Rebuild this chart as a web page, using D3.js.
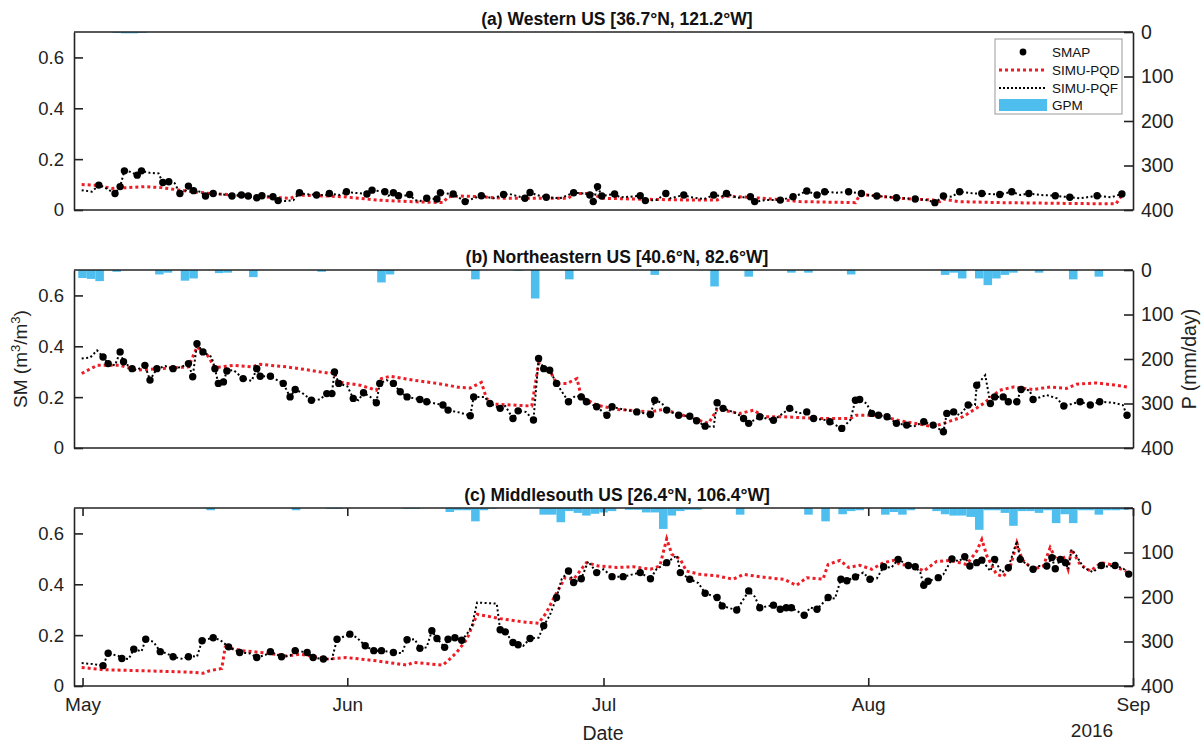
<!DOCTYPE html>
<html><head><meta charset="utf-8">
<script src="https://cdn.jsdelivr.net/npm/d3@7"></script>
<style>
body{margin:0;background:#fff;}
svg{display:block;font-family:"Liberation Sans",Arial,sans-serif;}
</style></head>
<body><svg id="chart" width="1203" height="743"></svg>
<script>
// ---------- DATA (day = days after 30 Apr 2016) ----------
const titles = ["(a) Western US [36.7°N, 121.2°W]","(b) Northeastern US [40.6°N, 82.6°W]","(c) Middlesouth US [26.4°N, 106.4°W]"];
const smTicks = [0,0.2,0.4,0.6];
const pTicks = [0,100,200,300,400];
const monthTicks = ["2016-05-01","2016-06-01","2016-07-01","2016-08-01","2016-09-01"];
const monthLabels = ["May","Jun","Jul","Aug","Sep"];
const legendLabels = ["SMAP","SIMU-PQD","SIMU-PQF","GPM"];

const smapA = [[2.9,0.098],[4.8,0.065],[5.4,0.092],[5.9,0.154],[7.4,0.137],[7.9,0.154],[10.4,0.108],[11.1,0.111],[12.4,0.065],[13.4,0.094],[14.0,0.076],[15.4,0.055],[16.3,0.065],[18.5,0.055],[19.6,0.059],[20.4,0.055],[21.4,0.048],[22.0,0.056],[23.3,0.052],[23.9,0.037],[26.4,0.068],[28.4,0.059],[29.9,0.065],[31.9,0.072],[34.3,0.063],[34.9,0.078],[36.4,0.072],[37.4,0.068],[38.0,0.056],[39.3,0.061],[41.3,0.046],[42.5,0.043],[42.9,0.068],[44.4,0.063],[45.8,0.033],[47.7,0.056],[50.3,0.061],[52.8,0.046],[53.4,0.069],[55.3,0.05],[58.5,0.068],[60.4,0.059],[60.8,0.033],[61.3,0.092],[61.8,0.055],[63.3,0.063],[66.3,0.056],[66.9,0.037],[69.3,0.065],[71.4,0.059],[74.9,0.059],[76.4,0.065],[79.2,0.052],[79.7,0.033],[82.7,0.039],[84.2,0.052],[85.8,0.075],[87.0,0.059],[87.9,0.072],[90.7,0.072],[92.2,0.065],[94.0,0.055],[96.3,0.048],[98.5,0.043],[100.8,0.029],[101.8,0.055],[103.7,0.072],[106.3,0.065],[108.4,0.061],[109.8,0.072],[111.8,0.065],[114.9,0.056],[116.6,0.05],[119.8,0.056],[122.7,0.063]];
const pqfA = [[0.9,0.078],[2.1,0.072],[2.9,0.098],[3.4,0.092],[4.8,0.065],[5.4,0.092],[5.9,0.154],[6.6,0.15],[7.4,0.137],[7.9,0.154],[8.9,0.146],[9.9,0.144],[10.4,0.108],[11.1,0.111],[11.8,0.105],[12.4,0.065],[13.0,0.072],[13.4,0.094],[14.0,0.076],[14.8,0.072],[15.4,0.055],[16.3,0.065],[17.9,0.059],[18.5,0.055],[19.6,0.059],[20.4,0.055],[21.4,0.048],[22.0,0.056],[23.3,0.052],[23.9,0.037],[24.9,0.035],[25.7,0.039],[26.4,0.068],[27.0,0.063],[28.4,0.059],[29.6,0.059],[29.9,0.065],[31.1,0.059],[31.9,0.072],[32.7,0.068],[34.3,0.063],[34.9,0.078],[36.4,0.072],[36.8,0.056],[37.4,0.068],[38.0,0.056],[38.6,0.055],[39.3,0.061],[39.9,0.039],[40.5,0.035],[41.3,0.046],[42.5,0.043],[42.9,0.068],[43.6,0.065],[44.4,0.063],[45.8,0.033],[46.3,0.04],[47.7,0.056],[49.1,0.046],[50.3,0.061],[51.0,0.063],[52.8,0.046],[53.4,0.069],[54.2,0.059],[55.3,0.05],[56.9,0.046],[58.5,0.068],[59.8,0.065],[60.4,0.059],[60.8,0.033],[61.3,0.092],[61.8,0.055],[63.3,0.063],[63.9,0.05],[65.1,0.052],[66.3,0.056],[66.9,0.037],[68.2,0.039],[69.3,0.065],[69.8,0.046],[71.4,0.059],[72.2,0.05],[73.8,0.043],[74.9,0.059],[75.9,0.055],[76.4,0.065],[77.6,0.048],[79.2,0.052],[79.7,0.033],[81.1,0.039],[82.7,0.039],[84.2,0.052],[84.8,0.059],[85.8,0.075],[87.0,0.059],[87.9,0.072],[89.3,0.068],[90.7,0.072],[92.2,0.065],[92.8,0.059],[94.0,0.055],[95.3,0.052],[96.3,0.048],[98.5,0.043],[99.9,0.039],[100.8,0.029],[101.8,0.055],[102.8,0.052],[103.7,0.072],[105.3,0.065],[106.3,0.065],[107.1,0.063],[108.4,0.061],[109.8,0.072],[110.8,0.059],[111.8,0.065],[113.2,0.059],[114.9,0.056],[116.6,0.05],[117.8,0.046],[119.8,0.056],[121.4,0.05],[122.7,0.063],[123.1,0.059]];
const pqdA = [[0.9,0.1],[2.7,0.097],[4.4,0.085],[6.3,0.088],[8.3,0.092],[10.2,0.088],[12.4,0.078],[13.9,0.072],[15.9,0.065],[17.9,0.061],[21.8,0.052],[25.4,0.046],[26.0,0.059],[29.6,0.055],[31.5,0.052],[33.5,0.046],[35.4,0.039],[39.3,0.033],[43.2,0.029],[43.8,0.052],[45.2,0.055],[47.7,0.052],[50.3,0.046],[54.0,0.046],[57.9,0.046],[58.5,0.065],[60.5,0.065],[61.9,0.046],[66.0,0.043],[70.0,0.04],[75.3,0.039],[76.1,0.055],[79.0,0.05],[83.0,0.04],[85.0,0.033],[91.5,0.029],[92.0,0.059],[92.8,0.059],[96.7,0.046],[100.6,0.039],[101.4,0.033],[101.8,0.043],[103.5,0.033],[108.4,0.029],[116.0,0.026],[122.0,0.024],[122.7,0.059]];
const gpmA = [[5,2],[6,3],[7,3],[8,2]];

const smapB = [[3.4,0.358],[4.0,0.332],[5.4,0.378],[5.8,0.339],[6.8,0.312],[8.3,0.325],[8.9,0.267],[9.7,0.312],[11.6,0.312],[13.4,0.332],[13.9,0.28],[14.4,0.41],[15.1,0.378],[16.5,0.312],[16.9,0.254],[17.5,0.26],[17.9,0.303],[19.8,0.273],[21.4,0.312],[21.8,0.282],[23.0,0.282],[24.5,0.254],[25.3,0.201],[25.9,0.23],[27.8,0.188],[29.6,0.214],[30.2,0.214],[30.5,0.299],[31.0,0.254],[32.7,0.195],[33.9,0.217],[35.4,0.178],[35.8,0.254],[37.4,0.254],[38.2,0.221],[39.0,0.201],[40.5,0.191],[41.3,0.182],[43.2,0.169],[43.8,0.149],[46.4,0.127],[46.8,0.201],[48.7,0.175],[49.9,0.156],[51.4,0.116],[52.0,0.146],[53.8,0.11],[54.4,0.352],[55.0,0.312],[55.7,0.306],[56.5,0.254],[57.9,0.182],[59.4,0.201],[60.0,0.182],[61.2,0.162],[62.4,0.129],[63.0,0.162],[65.9,0.142],[67.5,0.132],[68.0,0.188],[69.4,0.149],[70.8,0.129],[72.1,0.125],[72.9,0.107],[73.9,0.086],[75.3,0.178],[76.0,0.156],[78.4,0.116],[79.0,0.097],[80.3,0.123],[81.9,0.109],[83.8,0.156],[85.8,0.142],[86.6,0.116],[88.5,0.103],[89.9,0.077],[91.5,0.188],[92.0,0.191],[93.4,0.136],[94.2,0.129],[95.2,0.123],[96.3,0.097],[97.5,0.09],[99.5,0.103],[100.6,0.09],[101.8,0.064],[102.2,0.136],[103.0,0.142],[104.7,0.169],[105.7,0.247],[107.3,0.175],[107.8,0.201],[108.8,0.201],[109.4,0.182],[110.4,0.182],[110.9,0.23],[112.3,0.191],[115.9,0.165],[117.8,0.182],[119.0,0.169],[120.1,0.182],[123.3,0.129]];
const pqfB = [[0.9,0.352],[1.9,0.356],[2.7,0.384],[3.4,0.358],[4.0,0.332],[4.8,0.325],[5.4,0.378],[5.8,0.339],[6.8,0.312],[7.3,0.306],[8.3,0.325],[8.9,0.267],[9.7,0.312],[10.7,0.322],[11.6,0.312],[12.6,0.319],[13.4,0.332],[13.9,0.28],[14.4,0.41],[15.1,0.378],[16.1,0.358],[16.5,0.312],[16.9,0.254],[17.5,0.26],[17.9,0.303],[18.7,0.306],[19.8,0.273],[20.8,0.264],[21.4,0.312],[21.8,0.282],[23.0,0.282],[24.5,0.254],[25.3,0.201],[25.9,0.23],[26.7,0.217],[27.8,0.188],[28.8,0.191],[29.6,0.214],[30.2,0.214],[30.5,0.299],[31.0,0.254],[32.0,0.243],[32.7,0.195],[33.3,0.188],[33.9,0.217],[34.7,0.201],[35.4,0.178],[35.8,0.254],[36.6,0.267],[37.4,0.254],[38.2,0.221],[39.0,0.201],[40.5,0.191],[41.3,0.182],[43.2,0.169],[43.8,0.149],[45.2,0.139],[46.4,0.127],[46.8,0.201],[48.1,0.201],[48.7,0.175],[49.9,0.156],[50.5,0.165],[51.4,0.116],[52.0,0.146],[52.9,0.142],[53.8,0.11],[54.4,0.352],[55.0,0.312],[55.7,0.306],[56.5,0.254],[57.9,0.182],[58.7,0.205],[59.4,0.201],[60.0,0.182],[61.2,0.162],[62.4,0.129],[63.0,0.162],[64.3,0.152],[65.9,0.142],[67.5,0.132],[68.0,0.188],[68.8,0.178],[69.4,0.149],[70.8,0.129],[72.1,0.125],[72.9,0.107],[73.9,0.086],[74.9,0.083],[75.3,0.178],[76.0,0.156],[77.6,0.136],[78.4,0.116],[79.0,0.097],[80.3,0.123],[81.9,0.109],[83.8,0.156],[84.8,0.136],[85.8,0.142],[86.6,0.116],[88.1,0.11],[88.5,0.103],[89.9,0.077],[90.9,0.11],[91.5,0.188],[92.0,0.191],[92.8,0.175],[93.4,0.136],[94.2,0.129],[95.2,0.123],[96.3,0.097],[97.5,0.09],[98.3,0.084],[99.5,0.103],[100.6,0.09],[101.8,0.064],[102.2,0.136],[103.0,0.142],[103.7,0.129],[104.7,0.169],[105.5,0.169],[105.7,0.247],[106.7,0.286],[107.3,0.175],[107.8,0.201],[108.8,0.201],[109.4,0.182],[110.4,0.182],[110.9,0.23],[111.9,0.227],[112.3,0.191],[113.9,0.208],[115.1,0.195],[115.9,0.165],[117.0,0.175],[117.8,0.182],[119.0,0.169],[120.1,0.182],[121.7,0.178],[122.8,0.169],[123.3,0.129]];
const pqdB = [[0.9,0.293],[2.7,0.325],[5.4,0.325],[7.3,0.306],[10.1,0.312],[13.4,0.319],[14.4,0.397],[15.5,0.372],[16.5,0.316],[18.7,0.325],[20.8,0.319],[21.8,0.329],[24.9,0.319],[27.6,0.306],[30.0,0.293],[30.5,0.299],[30.8,0.26],[33.5,0.247],[35.4,0.227],[36.0,0.273],[37.0,0.282],[39.7,0.267],[42.5,0.254],[45.2,0.238],[46.4,0.236],[47.7,0.258],[48.3,0.195],[49.0,0.173],[53.6,0.165],[54.4,0.332],[55.7,0.306],[56.5,0.254],[57.7,0.254],[58.9,0.273],[59.4,0.201],[61.2,0.169],[63.5,0.152],[67.5,0.142],[69.0,0.152],[71.3,0.129],[74.3,0.097],[75.3,0.152],[78.0,0.136],[79.6,0.149],[80.7,0.123],[83.1,0.123],[87.0,0.116],[90.9,0.116],[91.6,0.129],[94.3,0.129],[96.7,0.107],[100.6,0.084],[101.8,0.097],[104.1,0.123],[106.5,0.175],[108.4,0.227],[110.0,0.24],[112.3,0.23],[114.3,0.24],[116.2,0.234],[117.4,0.251],[119.7,0.256],[122.0,0.247],[123.3,0.24]];
const gpmB = [[1,18],[2,20],[3,25],[5,4],[10,10],[11,6],[13,24],[14,19],[17,7],[18,6],[21,16],[29,4],[36,28],[37,10],[47,21],[52,2],[54,64],[58,21],[68,11],[75,37],[79,15],[84,6],[86,6],[91,10],[102,11],[103,6],[104,19],[106,19],[107,34],[108,19],[109,11],[110,6],[113,6],[117,21],[120,15]];

const smapC = [[3.4,0.08],[4.0,0.129],[5.6,0.108],[7.0,0.145],[8.4,0.184],[10.1,0.135],[11.6,0.115],[13.4,0.115],[15.0,0.178],[16.3,0.19],[18.1,0.154],[19.4,0.132],[21.4,0.112],[23.0,0.135],[24.3,0.115],[25.9,0.139],[27.3,0.132],[28.0,0.112],[29.2,0.106],[30.8,0.184],[32.3,0.204],[34.1,0.158],[35.1,0.139],[36.0,0.139],[37.4,0.132],[39.0,0.182],[40.5,0.148],[41.9,0.217],[42.5,0.187],[43.4,0.152],[43.8,0.184],[44.6,0.19],[45.4,0.18],[49.9,0.221],[50.5,0.213],[51.4,0.171],[52.0,0.162],[53.4,0.187],[55.0,0.237],[56.5,0.348],[57.9,0.452],[58.5,0.407],[59.4,0.422],[61.2,0.446],[63.0,0.43],[64.3,0.43],[66.3,0.446],[67.5,0.422],[69.4,0.485],[71.0,0.446],[72.1,0.42],[73.9,0.365],[75.3,0.348],[75.9,0.315],[77.6,0.299],[79.0,0.374],[80.3,0.308],[81.9,0.318],[82.7,0.302],[83.4,0.308],[84.0,0.308],[85.5,0.278],[87.0,0.302],[88.3,0.348],[89.8,0.42],[90.5,0.414],[91.5,0.429],[93.2,0.42],[94.8,0.469],[96.5,0.498],[97.7,0.474],[98.5,0.469],[99.5,0.396],[100.0,0.412],[101.2,0.426],[102.8,0.5],[104.3,0.508],[104.9,0.472],[105.7,0.485],[106.3,0.495],[107.8,0.498],[109.4,0.465],[110.8,0.498],[112.3,0.459],[113.9,0.472],[114.5,0.505],[114.9,0.461],[115.5,0.498],[116.1,0.485],[120.3,0.474],[121.9,0.474],[123.5,0.44]];
const pqfC = [[0.9,0.09],[2.3,0.086],[3.4,0.08],[4.0,0.129],[5.2,0.118],[5.6,0.108],[6.4,0.106],[7.0,0.145],[7.9,0.136],[8.4,0.184],[9.3,0.174],[10.1,0.135],[10.8,0.129],[11.6,0.115],[12.8,0.106],[13.4,0.119],[14.4,0.115],[15.0,0.178],[16.3,0.19],[17.1,0.181],[18.1,0.154],[19.4,0.132],[20.6,0.128],[21.4,0.112],[22.4,0.122],[23.0,0.135],[24.3,0.115],[25.3,0.119],[25.9,0.139],[27.3,0.132],[28.0,0.112],[29.2,0.106],[30.2,0.106],[30.8,0.184],[32.3,0.204],[33.1,0.191],[34.1,0.158],[35.1,0.139],[36.0,0.139],[37.4,0.132],[38.4,0.129],[39.0,0.182],[39.9,0.184],[40.5,0.148],[41.3,0.152],[41.9,0.217],[42.5,0.187],[43.4,0.152],[43.8,0.184],[44.6,0.19],[45.4,0.18],[46.0,0.204],[46.6,0.237],[47.2,0.328],[49.5,0.324],[49.9,0.221],[50.5,0.213],[51.4,0.171],[52.0,0.162],[52.6,0.158],[53.4,0.187],[54.4,0.19],[55.0,0.237],[55.7,0.277],[56.5,0.348],[57.1,0.42],[57.9,0.452],[58.5,0.407],[59.4,0.422],[60.2,0.49],[61.2,0.446],[62.0,0.459],[63.0,0.43],[64.3,0.43],[66.3,0.446],[67.5,0.422],[68.2,0.459],[69.4,0.485],[70.6,0.514],[71.0,0.446],[72.1,0.42],[73.1,0.405],[73.9,0.365],[75.3,0.348],[75.9,0.315],[77.2,0.302],[77.6,0.299],[78.4,0.341],[79.0,0.374],[79.7,0.352],[80.3,0.308],[81.9,0.318],[82.7,0.302],[83.4,0.308],[84.0,0.308],[85.5,0.278],[86.2,0.308],[87.0,0.302],[88.3,0.348],[89.1,0.344],[89.8,0.42],[90.5,0.414],[91.5,0.429],[92.4,0.446],[93.2,0.42],[94.0,0.423],[94.8,0.469],[95.7,0.465],[96.5,0.498],[97.7,0.474],[98.5,0.469],[99.1,0.446],[99.5,0.396],[100.0,0.412],[101.2,0.426],[101.8,0.439],[102.8,0.5],[103.6,0.49],[104.3,0.508],[104.9,0.472],[105.7,0.485],[106.3,0.495],[107.3,0.452],[107.8,0.498],[108.6,0.446],[109.4,0.465],[110.4,0.57],[110.8,0.498],[112.3,0.459],[112.9,0.472],[113.9,0.472],[114.5,0.505],[114.9,0.461],[115.5,0.498],[116.1,0.485],[116.4,0.459],[116.8,0.537],[117.4,0.511],[118.2,0.466],[119.3,0.448],[120.3,0.474],[121.1,0.469],[121.9,0.474],[122.9,0.461],[123.5,0.44]];
const pqdC = [[0.9,0.073],[3.4,0.064],[8.1,0.06],[14.0,0.054],[15.1,0.05],[15.9,0.06],[17.3,0.069],[17.7,0.152],[19.8,0.139],[22.6,0.129],[24.9,0.118],[26.5,0.125],[29.6,0.106],[31.9,0.112],[35.4,0.099],[39.0,0.082],[39.7,0.093],[43.2,0.082],[44.0,0.106],[44.8,0.132],[46.0,0.184],[47.2,0.282],[49.9,0.265],[52.6,0.252],[54.4,0.247],[55.3,0.288],[56.5,0.366],[57.5,0.426],[58.5,0.42],[60.0,0.485],[61.4,0.472],[63.5,0.466],[65.5,0.469],[67.5,0.459],[68.6,0.472],[69.4,0.579],[70.0,0.518],[71.0,0.498],[71.7,0.452],[73.3,0.439],[75.3,0.433],[77.2,0.42],[78.4,0.439],[81.1,0.426],[83.1,0.42],[84.6,0.396],[85.8,0.426],[87.7,0.42],[88.3,0.478],[89.7,0.494],[90.7,0.466],[92.0,0.475],[93.4,0.459],[94.8,0.485],[96.0,0.494],[96.7,0.478],[98.3,0.472],[99.5,0.452],[101.0,0.49],[102.6,0.494],[104.5,0.478],[105.7,0.53],[106.3,0.576],[106.9,0.511],[108.0,0.44],[108.8,0.43],[109.6,0.465],[110.4,0.563],[111.0,0.498],[112.3,0.459],[113.5,0.472],[114.3,0.544],[115.1,0.492],[115.9,0.505],[116.4,0.459],[116.8,0.537],[117.8,0.478],[119.0,0.452],[120.3,0.485],[121.3,0.478],[122.2,0.465],[123.2,0.452]];
const gpmC = [[16,5],[26,5],[30,2],[31,2],[39,2],[40,2],[44,9],[45,5],[46,5],[47,30],[48,5],[49,2],[55,15],[56,15],[57,32],[58,7],[59,11],[60,17],[61,13],[62,10],[63,7],[65,4],[66,4],[67,10],[68,10],[69,47],[70,17],[71,7],[72,4],[73,4],[78,15],[86,15],[88,30],[90,14],[91,7],[92,5],[95,15],[96,9],[97,15],[98,5],[101,7],[102,14],[103,17],[104,17],[105,20],[106,49],[107,5],[108,5],[109,11],[110,40],[111,7],[112,7],[113,11],[114,5],[115,34],[116,14],[117,34],[118,5],[119,5],[120,15],[121,5],[122,5],[123,4]];

// ---------- LAYOUT ----------
const svg = d3.select("#chart");
const L = 74, R = 1133, H = 178;
const tops = [32, 270, 508];
const t0 = new Date(2016,3,30);
const toDate = d => new Date(t0.getTime() + d*86400000);
const x = d3.scaleTime().domain([t0, new Date(2016,8,1)]).range([L, R]);
const blue = "#4dbeee";
const panels = [
  {smap:smapA, pqf:pqfA, pqd:pqdA, gpm:gpmA},
  {smap:smapB, pqf:pqfB, pqd:pqdB, gpm:gpmB},
  {smap:smapC, pqf:pqfC, pqd:pqdC, gpm:gpmC}
];
const fnt = 18.5;

panels.forEach((p, i) => {
  const top = tops[i], bot = top + H;
  const y = d3.scaleLinear().domain([0, 0.7]).range([bot, top]);
  const y2 = d3.scaleLinear().domain([0, 400]).range([top, bot]);
  const g = svg.append("g");
  const clipId = "clip" + i;
  svg.append("clipPath").attr("id", clipId).append("rect").attr("x", L).attr("y", top).attr("width", R-L).attr("height", H);
  const plot = g.append("g").attr("clip-path", `url(#${clipId})`);

  // precipitation bars
  plot.selectAll("rect.bar").data(p.gpm).join("rect").attr("class","bar")
    .attr("x", d => x(toDate(d[0]-0.5))).attr("width", d => x(toDate(d[0]+0.5)) - x(toDate(d[0]-0.5)))
    .attr("y", y2(0)).attr("height", d => y2(d[1]) - y2(0)).attr("fill", blue);

  const line = d3.line().x(d => x(toDate(d[0]))).y(d => y(d[1]));
  plot.append("path").datum(p.pqd).attr("d", line).attr("fill","none")
    .attr("stroke","#ee1c25").attr("stroke-width",3).attr("stroke-dasharray","3,3");
  plot.append("path").datum(p.pqf).attr("d", line).attr("fill","none")
    .attr("stroke","#000").attr("stroke-width",2).attr("stroke-dasharray","2,2.5");
  plot.selectAll("circle").data(p.smap).join("circle")
    .attr("cx", d => x(toDate(d[0]))).attr("cy", d => y(d[1])).attr("r", 3.7).attr("fill","#000");

  // axes
  const la = g.append("g").attr("transform", `translate(${L},0)`)
    .call(d3.axisLeft(y).tickValues(smTicks).tickFormat(d => d===0 ? "0" : d3.format(".1f")(d)).tickSizeInner(-9).tickSizeOuter(0).tickPadding(10));
  const ra = g.append("g").attr("transform", `translate(${R},0)`)
    .call(d3.axisRight(y2).tickValues(pTicks).tickSizeInner(-9).tickSizeOuter(0).tickPadding(8));
  [la, ra].forEach(a => {
    a.selectAll("text").attr("font-size", fnt).attr("fill","#222").attr("font-family","Liberation Sans, Arial, sans-serif");
    a.select(".domain").attr("stroke","#222").attr("stroke-width",1.6);
    a.selectAll(".tick line").attr("stroke","#222").attr("stroke-width",1.6);
  });
  ra.selectAll("text").attr("font-size", 19.5);
  // top & bottom box lines
  g.append("line").attr("x1",L).attr("x2",R).attr("y1",top).attr("y2",top).attr("stroke","#222").attr("stroke-width",1.6);
  g.append("line").attr("x1",L).attr("x2",R).attr("y1",bot).attr("y2",bot).attr("stroke","#222").attr("stroke-width",1.6);

  if (i === 2) {
    const tv = monthTicks.map(s => { const [yy,mm,dd] = s.split("-").map(Number); return new Date(yy,mm-1,dd); });
    const bx = g.append("g").attr("transform", `translate(0,${bot})`)
      .call(d3.axisBottom(x).tickValues(tv).tickFormat((d,k) => monthLabels[k]).tickSizeInner(-8).tickSizeOuter(0).tickPadding(12));
    bx.select(".domain").remove();
    bx.selectAll(".tick line").attr("stroke","#222").attr("stroke-width",1.6);
    bx.selectAll("text").attr("font-size", 19).attr("fill","#222");
    const tx = g.append("g").attr("transform", `translate(0,${top})`)
      .call(d3.axisTop(x).tickValues(tv).tickFormat("").tickSizeInner(-8).tickSizeOuter(0));
    tx.select(".domain").remove();
    tx.selectAll(".tick line").attr("stroke","#222").attr("stroke-width",1.6);
  }

  // title
  svg.append("text").attr("x", 617).attr("y", top - 7).attr("text-anchor","middle")
    .attr("font-size", 17.5).attr("font-weight","bold").attr("fill","#111").text(titles[i]);
});

// axis titles
const yl = svg.append("text").attr("transform","translate(27,359) rotate(-90)").attr("text-anchor","middle")
  .attr("font-size",19).attr("fill","#222");
yl.append("tspan").text("SM (m");
yl.append("tspan").attr("font-size",13).attr("dy",-7).text("3");
yl.append("tspan").attr("dy",7).text("/m");
yl.append("tspan").attr("font-size",13).attr("dy",-7).text("3");
yl.append("tspan").attr("dy",7).text(")");
svg.append("text").attr("transform","translate(1196,359) rotate(-90)").attr("text-anchor","middle")
  .attr("font-size",19.5).attr("fill","#222").text("P (mm/day)");
svg.append("text").attr("x",603).attr("y",740).attr("text-anchor","middle").attr("font-size",19.5).attr("fill","#222").text("Date");
svg.append("text").attr("x",1092).attr("y",737).attr("text-anchor","middle").attr("font-size",19).attr("fill","#222").text("2016");

// legend
const lg = svg.append("g").attr("transform","translate(995,39)");
lg.append("rect").attr("width",127).attr("height",75).attr("fill","#fff").attr("stroke","#999").attr("stroke-width",1);
const rows = [13, 31, 49, 66];
lg.append("circle").attr("cx",28).attr("cy",rows[0]).attr("r",3.4).attr("fill","#000");
lg.append("line").attr("x1",4).attr("x2",52).attr("y1",rows[1]).attr("y2",rows[1]).attr("stroke","#ee1c25").attr("stroke-width",3).attr("stroke-dasharray","3,3");
lg.append("line").attr("x1",4).attr("x2",52).attr("y1",rows[2]).attr("y2",rows[2]).attr("stroke","#000").attr("stroke-width",2).attr("stroke-dasharray","2,2");
lg.append("rect").attr("x",4).attr("y",rows[3]-6).attr("width",48).attr("height",12).attr("fill",blue);
legendLabels.forEach((t,k) => lg.append("text").attr("x",57).attr("y",rows[k]+5).attr("font-size",13.5).attr("fill","#111").text(t));
</script></body></html>
